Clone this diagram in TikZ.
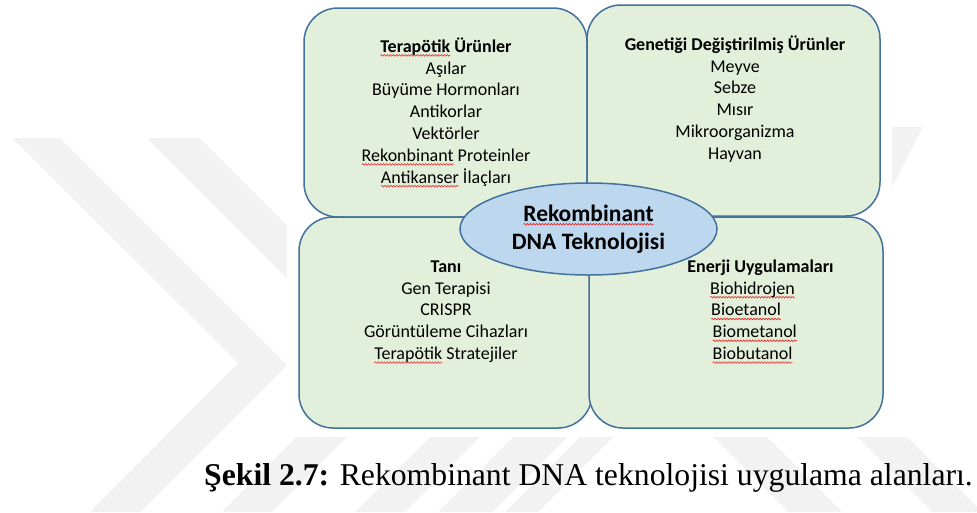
\documentclass[tikz,border=0pt]{standalone}
\usepackage{fontspec}
\setmainfont{Carlito}
\newfontfamily\captionfont{Liberation Serif}
\usetikzlibrary{shapes.geometric, positioning, decorations.pathmorphing}
\definecolor{boxgreen}{RGB}{226, 239, 218}
\definecolor{boxblue}{RGB}{65, 113, 156}
\definecolor{ovalblue}{RGB}{189, 215, 238}
\definecolor{markgray}{RGB}{242, 242, 242}
\definecolor{spellred}{RGB}{232, 40, 40}
\newsavebox\spellbox
\newlength\spellw
\newcommand\spellmark[1]{\sbox\spellbox{#1}\setlength\spellw{\wd\spellbox}%
  \rlap{\tikz[overlay, baseline=0pt]\draw[spellred, line width=0.6pt, decorate, decoration={snake, amplitude=0.8pt, segment length=3pt}] (0pt,-3pt) -- (\spellw,-3pt);}%
  \usebox\spellbox}
\tikzset{
  areabox/.style={draw=boxblue, fill=boxgreen, line width=1.5pt, rounded corners=34pt, inner sep=0pt},
  headtext/.style={font=\fontsize{18}{21}\selectfont\bfseries, inner sep=0pt, anchor=mid},
  itemtext/.style={font=\fontsize{18}{21}\selectfont, inner sep=0pt, anchor=mid},
  centreoval/.style={ellipse, draw=boxblue, fill=ovalblue, line width=1.5pt, inner sep=0pt, align=center, font=\fontsize{23.5}{28}\selectfont\bfseries}
}

\begin{document}
\begin{tikzpicture}[x=1pt, y=-1pt]
\useasboundingbox (0,0) rectangle (977,512);
% watermark behind the figure
\fill[markgray] (12,138) -- (60,138) -- (287,365) -- (140,512) -- (90,512) -- (238,363) -- cycle;
\fill[markgray] (147,138) -- (200,138) -- (423,361) -- (272,512) -- (222,512) -- (371,362) -- cycle;
\fill[markgray] (892,127) -- (923,127) -- (892,187) -- cycle;
\fill[markgray] (430,437) -- (480,437) -- (405,512) -- (355,512) -- cycle;
\fill[markgray] (513,437) -- (567,437) -- (492,512) -- (438,512) -- cycle;
\fill[markgray] (580,437) -- (613,437) -- (538,512) -- (505,512) -- cycle;
\fill[markgray] (713,437) -- (767,437) -- (842,512) -- (788,512) -- cycle;
\fill[markgray] (857,437) -- (907,437) -- (982,512) -- (932,512) -- cycle;
\fill[white] (287,0) rectangle (892,437);

% four areas
\node[areabox, minimum width=283pt, minimum height=209pt] (ther) at (445.5,112.5) {};
\node[areabox, minimum width=293pt, minimum height=211pt] (gmo) at (733.5,110.5) {};
\node[areabox, minimum width=293pt, minimum height=211pt] (diag) at (445.5,322.5) {};
\node[areabox, minimum width=294pt, minimum height=211pt] (energy) at (736,322.5) {};

% centre
\node[centreoval, minimum width=257pt, minimum height=92pt] (rdna) at (588.5,229) {\spellmark{Rekombinant}\\DNA Teknolojisi};

% texts
\node[headtext] (therhead) at (446,50) {\spellmark{Terapötik} Ürünler};
\foreach \name [count=\i] in {Aşılar, Büyüme Hormonları, Antikorlar, Vektörler, \spellmark{Rekonbinant} Proteinler, \spellmark{Antikanser} İlaçları}
  \node[itemtext] (ther\i) at (446,{50+21.8*\i}) {\name};

\node[headtext] (gmohead) at (735,48) {Genetiği Değiştirilmiş Ürünler};
\foreach \name [count=\i] in {Meyve, Sebze, Mısır, Mikroorganizma, Hayvan}
  \node[itemtext] (gmo\i) at (735,{48+21.8*\i}) {\name};

\node[headtext] (diaghead) at (446,270) {Tanı};
\foreach \name [count=\i] in {Gen Terapisi, CRISPR, Görüntüleme Cihazları, \spellmark{Terapötik} Stratejiler}
  \node[itemtext] (diag\i) at (446,{270+21.8*\i}) {\name};

\node[headtext] (energyhead) at (760.5,270) {Enerji Uygulamaları};
\node[itemtext, anchor=mid west] (energy1) at (710,291.8) {\spellmark{Biohidrojen}};
\node[itemtext, anchor=mid west] (energy2) at (711,313.6) {\spellmark{Bioetanol}};
\node[itemtext, anchor=mid west] (energy3) at (712.5,335.4) {\spellmark{Biometanol}};
\node[itemtext, anchor=mid west] (energy4) at (712.5,357.2) {\spellmark{Biobutanol}};

% caption
\node[anchor=base west, inner sep=0pt, font=\captionfont\fontsize{31.7}{38}\selectfont] (caption) at (204,485) {\textbf{Şekil 2.7:} Rekombinant DNA teknolojisi uygulama alanları.};
\end{tikzpicture}
\end{document}
